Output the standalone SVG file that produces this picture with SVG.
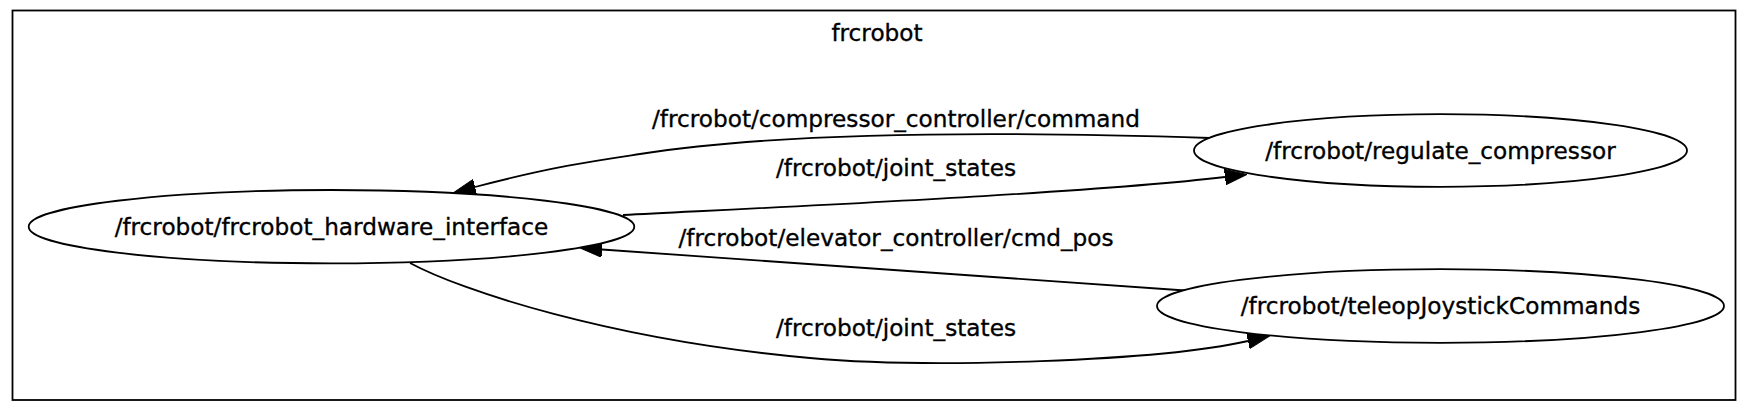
<svg xmlns="http://www.w3.org/2000/svg" width="1750" height="410" viewBox="0 0 1750 410">
<defs>
<style>
.t{font-family:"DejaVu Sans",sans-serif;font-size:23.2px;fill:#000;stroke:#000;stroke-width:0.35;text-anchor:middle}
.n{fill:#fff;stroke:#000;stroke-width:1.8}
.e{fill:none;stroke:#000;stroke-width:1.8}
</style>
<marker id="ah" viewBox="0 0 22 16" markerUnits="userSpaceOnUse" markerWidth="22" markerHeight="16" refX="0" refY="8" orient="auto">
<path d="M0,0.2 L22,8 L0,15.8 z" fill="#000" stroke="#000" stroke-width="1"/>
</marker>
</defs>
<rect x="0" y="0" width="1750" height="410" fill="#fff"/>
<g id="cluster_frcrobot">
<rect x="12.5" y="10.5" width="1723" height="389.5" fill="#fff" stroke="#000" stroke-width="1.8"/>
<text class="t" x="877" y="41">frcrobot</text>
</g>
<g id="edges">
<path class="e" marker-end="url(#ah)" d="M1210,138 C1000,131 780,132 640,154 C600,160 555,166 475,187"/>
<text class="t" x="896" y="126.5">/frcrobot/compressor_controller/command</text>
<path class="e" marker-end="url(#ah)" d="M623,215 C800,206 1090,193 1225,177"/>
<text class="t" x="896" y="176">/frcrobot/joint_states</text>
<path class="e" marker-end="url(#ah)" d="M1185,290.5 L602,249.5"/>
<text class="t" x="896" y="246">/frcrobot/elevator_controller/cmd_pos</text>
<path class="e" marker-end="url(#ah)" d="M410,263 C460,290 610,340 810,358 C930,369 1160,361 1248,341"/>
<text class="t" x="896" y="336">/frcrobot/joint_states</text>
</g>
<g id="node_hardware_interface">
<ellipse class="n" cx="331.5" cy="226.7" rx="302.8" ry="36.7"/>
<text class="t" x="331.5" y="235">/frcrobot/frcrobot_hardware_interface</text>
</g>
<g id="node_regulate_compressor">
<ellipse class="n" cx="1440.5" cy="150.5" rx="246.5" ry="36.3"/>
<text class="t" x="1440.5" y="158.5">/frcrobot/regulate_compressor</text>
</g>
<g id="node_teleopJoystickCommands">
<ellipse class="n" cx="1440.5" cy="306" rx="283.5" ry="36.8"/>
<text class="t" x="1440.5" y="314">/frcrobot/teleopJoystickCommands</text>
</g>
</svg>
